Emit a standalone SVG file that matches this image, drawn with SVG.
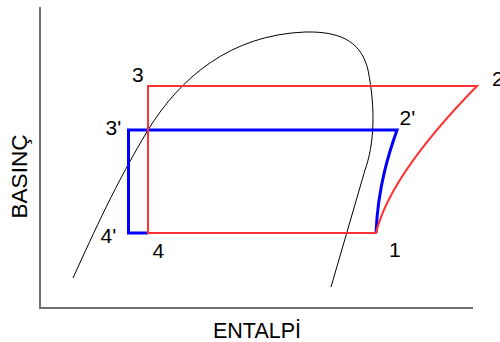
<svg xmlns="http://www.w3.org/2000/svg" width="500" height="342" viewBox="0 0 500 342">
<style>
.lbl{font-family:"Liberation Sans",Arial,sans-serif;font-size:21px;fill:#000}
.axis{stroke:#707070;stroke-width:2;fill:none}
.red{stroke:#ff3333;stroke-width:2;fill:none}
.blue{stroke:#0000ff;stroke-width:3;fill:none}
.dome{stroke:#000;stroke-width:1;fill:none}
</style>
<rect width="500" height="342" fill="#fff"/>
<g id="axes">
<path class="axis" d="M40,7 L40,308 L473,308"/>
</g>
<g id="connectors">
<path id="dome" class="dome" d="M73,278 C 95,230 115,185 148,130 C 180,78 230,35 305,32 C 345,31 362,45 368,70 C 376,110 374,145 365,170 L 331,287"/>
<path id="blue-cycle" class="blue" d="M148,233 L128.5,233 L128.5,130 L397,130 C 390,150 378,185 376,233"/>
<path id="red-cycle" class="red" d="M148,86 L477,86 Q 390,175 376,233 L148,233 Z"/>
</g>
<g id="labels">
<text class="lbl" x="132" y="82">3</text>
<text class="lbl" x="105.5" y="134.5">3'</text>
<text class="lbl" x="100.5" y="242.5">4'</text>
<text class="lbl" x="152.5" y="258">4</text>
<text class="lbl" x="492" y="86">2</text>
<text class="lbl" x="399.5" y="124.5">2'</text>
<text class="lbl" x="389" y="257">1</text>
<text class="lbl" x="257" y="337.5" text-anchor="middle" style="font-size:21.5px">ENTALPİ</text>
<text class="lbl" transform="translate(27,176.5) rotate(-90)" text-anchor="middle" style="font-size:22.5px">BASINÇ</text>
</g>
</svg>
